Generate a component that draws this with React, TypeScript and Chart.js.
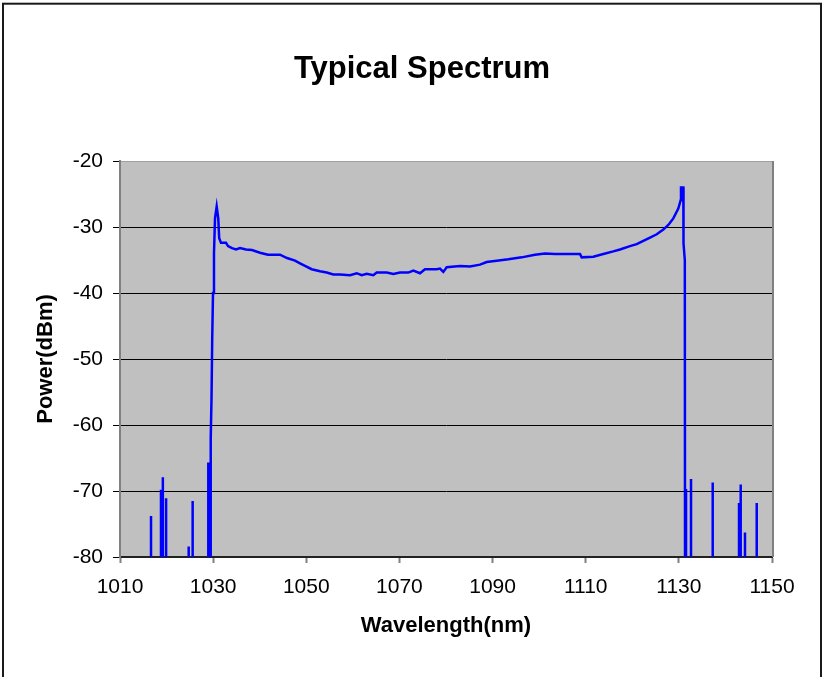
import React, { useEffect, useRef } from "react";
import { Chart, registerables } from "chart.js";

Chart.register(...registerables);

const FONT = "Arial, 'Liberation Sans', sans-serif";

const chartTitle = "Typical Spectrum";
const xAxisTitle = "Wavelength(nm)";
const yAxisTitle = "Power(dBm)";

const xTicks = [1010, 1030, 1050, 1070, 1090, 1110, 1130, 1150];
const yTicks = [-80, -70, -60, -50, -40, -30, -20];

// Main emission band (nm, dBm)
const spectrumNm = [
  1029.33, 1029.48, 1029.65, 1029.8, 1029.97, 1030.18, 1030.4, 1030.76, 1031.1, 1031.3,
  1031.69, 1032.76, 1033.2, 1034.05, 1034.9, 1035.77, 1037.06, 1038.34, 1040.06, 1041.78,
  1044.36, 1045.86, 1047.58, 1048.65, 1049.73, 1051.16, 1052.95, 1054.38, 1055.8, 1057.24,
  1059.39, 1060.83, 1061.9, 1062.97, 1064.39, 1065.12, 1067.27, 1068.69, 1070.12, 1071.91,
  1072.98, 1074.42, 1075.49, 1078.0, 1078.71, 1079.42, 1080.15, 1083.01, 1085.16, 1087.3,
  1088.74, 1090.89, 1093.38, 1096.26, 1099.11, 1101.26, 1103.41, 1105.92, 1108.78, 1109.14,
  1111.63, 1113.78, 1115.92, 1117.36, 1119.51, 1120.95, 1122.37, 1123.81, 1125.25, 1126.66,
  1127.74, 1128.81, 1129.88, 1130.4, 1130.46, 1130.96, 1131.0, 1131.28, 1131.33,
];
const spectrumDbm = [
  -85, -62, -56, -47, -40, -34, -28.7, -26.9, -28.7, -31.7,
  -32.4, -32.4, -32.9, -33.2, -33.4, -33.2, -33.4, -33.5, -33.9, -34.2,
  -34.2, -34.7, -35.1, -35.5, -35.9, -36.4, -36.7, -36.9, -37.2, -37.2,
  -37.3, -37.0, -37.3, -37.1, -37.3, -36.9, -36.9, -37.1, -36.9, -36.9,
  -36.6, -37.0, -36.4, -36.4, -36.3, -36.8, -36.1, -35.9, -36.0, -35.7,
  -35.3, -35.1, -34.9, -34.6, -34.2, -34.0, -34.1, -34.1, -34.1, -34.6,
  -34.5, -34.1, -33.7, -33.4, -32.9, -32.6, -32.1, -31.6, -31.1, -30.4,
  -29.7, -28.7, -27.2, -25.9, -24.0, -24.0, -32.5, -35.0, -85,
];

// Isolated noise spikes outside the band (nm, dBm peak)
const spikeNm = [
  1016.66, 1018.8, 1019.2, 1019.9, 1024.75, 1025.6, 1028.96,
  1131.54, 1132.61, 1137.27, 1142.92, 1143.28, 1144.2, 1146.72,
];
const spikeDbm = [
  -73.8, -69.8, -67.9, -71.1, -78.4, -71.5, -65.7,
  -69.7, -68.2, -68.7, -71.8, -69.0, -76.3, -71.8,
];
const NOISE_FLOOR = -85; // below the visible axis, clipped away

function buildSeries() {
  const pts: { x: number; y: number }[] = [];
  const first = spectrumNm[0];
  const spikes = spikeNm.map((x, i) => ({ x, y: spikeDbm[i] }));
  spikes
    .filter((s) => s.x < first)
    .forEach((s) => {
      pts.push({ x: s.x, y: NOISE_FLOOR }, { x: s.x, y: s.y }, { x: s.x, y: NOISE_FLOOR });
    });
  spectrumNm.forEach((x, i) => pts.push({ x, y: spectrumDbm[i] }));
  spikes
    .filter((s) => s.x > first)
    .forEach((s) => {
      pts.push({ x: s.x, y: NOISE_FLOOR }, { x: s.x, y: s.y }, { x: s.x, y: NOISE_FLOOR });
    });
  return pts;
}

const backgroundPlugin = {
  id: "plotBackground",
  beforeDraw(chart: any) {
    const { ctx, chartArea } = chart;
    ctx.save();
    ctx.fillStyle = "#ffffff";
    ctx.fillRect(0, 0, chart.width, chart.height);
    ctx.fillStyle = "#C0C0C0";
    ctx.fillRect(chartArea.left, chartArea.top, chartArea.right - chartArea.left, chartArea.bottom - chartArea.top);
    ctx.restore();
  },
  afterDraw(chart: any) {
    const { ctx, chartArea } = chart;
    ctx.save();
    // right edge of plot area
    ctx.strokeStyle = "#808080";
    ctx.lineWidth = 2;
    ctx.beginPath();
    ctx.moveTo(chartArea.right + 1, chartArea.top);
    ctx.lineTo(chartArea.right + 1, chartArea.bottom);
    ctx.stroke();
    // outer frame
    ctx.strokeStyle = "#1a1a1a";
    ctx.lineWidth = 2;
    ctx.strokeRect(3, 3.7, 818, 700);
    ctx.restore();
  },
};

export default function App() {
  const canvasRef = useRef<HTMLCanvasElement | null>(null);

  useEffect(() => {
    if (!canvasRef.current) return;
    const chart = new Chart(canvasRef.current, {
      type: "line",
      data: {
        datasets: [
          {
            label: "Spectrum",
            data: buildSeries(),
            borderColor: "#0000FF",
            borderWidth: 2.5,
            pointRadius: 0,
            tension: 0,
            fill: false,
            clip: 0,
          } as any,
        ],
      },
      options: {
        responsive: false,
        animation: false,
        devicePixelRatio: 1,
        layout: { padding: { left: 22, right: 0, top: 0, bottom: 0 } },
        plugins: {
          legend: { display: false },
          tooltip: { enabled: false },
          title: {
            display: true,
            text: chartTitle,
            color: "#000",
            font: { family: FONT, size: 31, weight: "bold" },
            padding: { top: 50.7, bottom: 73.1 },
          },
        },
        scales: {
          x: {
            type: "linear",
            min: xTicks[0],
            max: xTicks[xTicks.length - 1],
            afterBuildTicks: (s: any) => {
              s.ticks = xTicks.map((v) => ({ value: v }));
            },
            afterFit: (s: any) => {
              s.height = 120;
            },
            ticks: {
              color: "#000",
              font: { family: FONT, size: 21 },
              padding: 12,
              maxRotation: 0,
              autoSkip: false,
              callback: (v: any) => String(v),
            },
            grid: {
              display: true,
              drawOnChartArea: false,
              drawTicks: true,
              tickLength: 6,
              tickColor: "#808080",
              tickWidth: 2,
            },
            border: { display: true, color: "#222", width: 2 },
            title: {
              display: true,
              text: xAxisTitle,
              color: "#000",
              font: { family: FONT, size: 22, weight: "bold" },
              padding: { top: 0, bottom: 38 },
            },
          },
          y: {
            type: "linear",
            position: "left",
            min: yTicks[0],
            max: yTicks[yTicks.length - 1],
            afterBuildTicks: (s: any) => {
              s.ticks = yTicks.map((v) => ({ value: v }));
            },
            afterFit: (s: any) => {
              s.width = 98;
            },
            ticks: {
              color: "#000",
              font: { family: FONT, size: 21 },
              padding: 10,
              autoSkip: false,
              callback: (v: any) => String(v),
            },
            grid: {
              display: true,
              drawOnChartArea: true,
              drawTicks: true,
              tickLength: 7,
              tickColor: "#000",
              lineWidth: 1,
              color: (ctx: any) => (ctx.tick && ctx.tick.value === yTicks[yTicks.length - 1] ? "#a0a0a0" : "#000"),
            },
            border: { display: true, color: "#808080", width: 2 },
            title: {
              display: true,
              text: yAxisTitle,
              color: "#000",
              font: { family: FONT, size: 22, weight: "bold" },
              padding: { top: 11, bottom: 0 },
            },
          },
          yRight: {
            type: "linear",
            position: "right",
            min: 0,
            max: 1,
            display: true,
            afterFit: (s: any) => {
              s.width = 50;
            },
            ticks: { display: false },
            grid: { display: false },
            border: { display: false },
          },
        },
      } as any,
      plugins: [backgroundPlugin],
    });
    return () => chart.destroy();
  }, []);

  return (
    <div style={{ position: "fixed", left: 0, top: 0, width: 822, height: 677, background: "#fff" }}>
      <canvas ref={canvasRef} width={822} height={677} style={{ display: "block", width: 822, height: 677 }} />
    </div>
  );
}
